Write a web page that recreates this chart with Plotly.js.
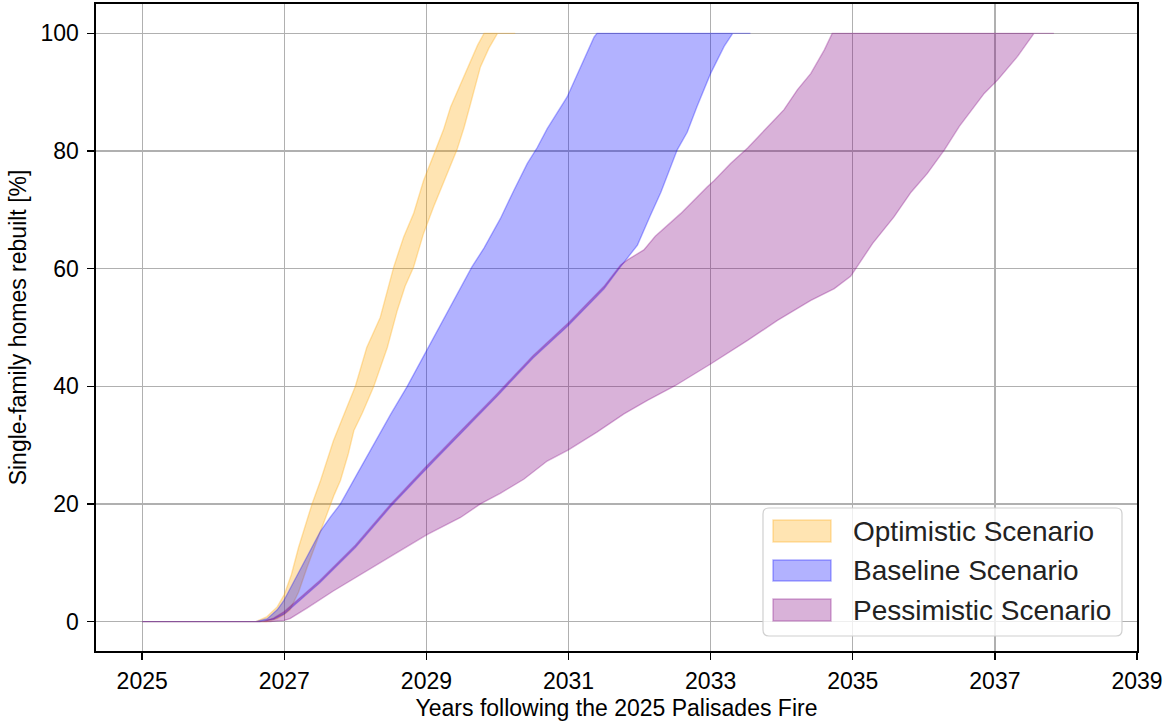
<!DOCTYPE html>
<html>
<head>
<meta charset="utf-8">
<script src="https://cdn.plot.ly/plotly-3.0.1.min.js"></script>
<style>
  html, body { margin: 0; padding: 0; background: #fff; }
  #chart { width: 1167px; height: 721px; }
</style>
</head>
<body>
<div id="chart"></div>
<script>
// ---------------- Data ----------------
const seriesNames = ["Optimistic Scenario", "Baseline Scenario", "Pessimistic Scenario"];

// Optimistic scenario: upper (faster) and lower (slower) bound
const optUpperX = [2025, 2026.6, 2026.75, 2026.9, 2027.0, 2027.1, 2027.2, 2027.3, 2027.39, 2027.51, 2027.6, 2027.69, 2027.8, 2027.88, 2028.0, 2028.16, 2028.35, 2028.54, 2028.68, 2028.82, 2028.96, 2029.13, 2029.24, 2029.34, 2029.5, 2029.62, 2029.72, 2029.81, 2030.25];
const optUpperY = [0, 0, 0.8, 2.5, 4.6, 8.0, 12.6, 16.5, 20.0, 24.0, 27.5, 30.7, 34.0, 36.4, 40.0, 46.6, 51.7, 60.3, 65.4, 69.4, 75.0, 80.2, 83.6, 87.5, 92.0, 95.4, 98.0, 100, 100];
const optLowerX = [2025, 2026.75, 2026.9, 2027.0, 2027.08, 2027.2, 2027.32, 2027.45, 2027.6, 2027.7, 2027.79, 2027.9, 2027.98, 2028.1, 2028.26, 2028.45, 2028.59, 2028.7, 2028.82, 2028.96, 2029.1, 2029.29, 2029.43, 2029.53, 2029.62, 2029.76, 2029.88, 2030.0, 2030.25];
const optLowerY = [0, 0, 0.5, 1.2, 2.0, 5.0, 9.2, 13.5, 18.3, 21.5, 24.0, 28.5, 32.5, 35.5, 40.0, 46.6, 52.9, 57.0, 60.3, 66.0, 70.5, 76.2, 80.2, 84.0, 88.0, 94.3, 97.5, 100, 100];

// Baseline scenario
const baseUpperX = [2025, 2026.6, 2026.76, 2026.9, 2026.99, 2027.1, 2027.23, 2027.37, 2027.51, 2027.65, 2027.79, 2028.02, 2028.26, 2028.5, 2028.73, 2029.01, 2029.2, 2029.43, 2029.64, 2029.81, 2030.04, 2030.23, 2030.42, 2030.56, 2030.7, 2030.98, 2031.17, 2031.36, 2031.4, 2033.56];
const baseUpperY = [0, 0, 0.5, 2.0, 3.5, 6.0, 9.2, 12.3, 15.4, 17.8, 20.0, 25.0, 30.2, 35.3, 40.0, 46.3, 50.5, 55.5, 60.3, 63.5, 68.5, 73.3, 77.9, 80.6, 83.8, 89.2, 94.3, 99.4, 100, 100];
const baseLowerX = [2025, 2026.65, 2026.85, 2027.0, 2027.5, 2028.0, 2028.5, 2029.0, 2029.5, 2030.0, 2030.5, 2031.0, 2031.5, 2031.73, 2031.97, 2032.15, 2032.3, 2032.53, 2032.67, 2032.81, 2033.0, 2033.19, 2033.31, 2033.56];
const baseLowerY = [0, 0, 0.4, 1.3, 6.6, 12.6, 19.6, 26.0, 32.2, 38.4, 44.8, 50.4, 56.6, 60.3, 64.0, 69.0, 73.0, 80.2, 83.2, 87.6, 93.2, 97.8, 100, 100];

// Pessimistic scenario
const pesUpperX = [2025, 2026.7, 2026.85, 2027.0, 2027.5, 2028.0, 2028.5, 2029.0, 2029.5, 2030.0, 2030.5, 2031.0, 2031.5, 2031.73, 2031.83, 2032.06, 2032.22, 2032.58, 2032.95, 2033.05, 2033.28, 2033.52, 2033.8, 2034.03, 2034.22, 2034.41, 2034.6, 2034.71, 2037.83];
const pesUpperY = [0, 0, 0.6, 1.7, 7.0, 13.0, 20.0, 26.4, 32.6, 38.8, 45.2, 50.8, 57.0, 60.6, 61.5, 63.2, 65.5, 69.4, 73.9, 75.0, 77.9, 80.5, 84.1, 87.0, 90.4, 93.2, 97.2, 100, 100];
const pesLowerX = [2025, 2026.8, 2027.0, 2027.08, 2027.32, 2027.69, 2028.16, 2028.54, 2029.01, 2029.48, 2029.76, 2030.04, 2030.37, 2030.7, 2031.0, 2031.4, 2031.78, 2032.11, 2032.5, 2033.0, 2033.52, 2033.94, 2034.41, 2034.74, 2034.97, 2035.05, 2035.28, 2035.58, 2035.82, 2036.05, 2036.29, 2036.5, 2036.85, 2037.04, 2037.32, 2037.55, 2037.83];
const pesLowerY = [0, 0, 0.2, 0.5, 2.3, 5.2, 8.6, 11.4, 14.8, 17.7, 20.0, 21.8, 24.2, 27.3, 29.2, 32.2, 35.3, 37.6, 40.1, 43.8, 47.8, 51.2, 54.6, 56.6, 58.7, 60.3, 64.3, 68.8, 73.0, 76.2, 80.2, 84.2, 89.8, 92.1, 96.1, 100, 100];

// Axis ticks
const xTicks = [2025, 2027, 2029, 2031, 2033, 2035, 2037, 2039];
const yTicks = [0, 20, 40, 60, 80, 100];

// ---------------- Styling ----------------
const fills  = ["rgba(255,165,0,0.3)", "rgba(0,0,255,0.3)", "rgba(128,0,128,0.3)"];
const FONT = "'Liberation Sans', Arial, Helvetica, sans-serif";

function band(ux, uy, lx, ly, i) {
  return {
    type: "scatter",
    mode: "lines",
    name: seriesNames[i],
    x: ux.concat(lx.slice().reverse()),
    y: uy.concat(ly.slice().reverse()),
    fill: "toself",
    fillcolor: fills[i],
    line: { color: fills[i], width: 1.4 },
    hoverinfo: "skip",
    showlegend: false
  };
}

const data = [
  band(optUpperX, optUpperY, optLowerX, optLowerY, 0),
  band(baseUpperX, baseUpperY, baseLowerX, baseLowerY, 1),
  band(pesUpperX, pesUpperY, pesLowerX, pesLowerY, 2)
];

// ---------------- Custom matplotlib-like legend ----------------
const PW = 1041, PH = 647;          // plot area in px
const px = v => v / PW, py = v => v / PH;
const lx0 = px(763 - 96), lx1 = px(1122 - 96);
const ly0 = py(651 - 636), ly1 = py(651 - 508);
const rx = px(6), ry = py(6);
const framePath =
  `M ${lx0 + rx},${ly0} L ${lx1 - rx},${ly0} Q ${lx1},${ly0} ${lx1},${ly0 + ry} ` +
  `L ${lx1},${ly1 - ry} Q ${lx1},${ly1} ${lx1 - rx},${ly1} L ${lx0 + rx},${ly1} ` +
  `Q ${lx0},${ly1} ${lx0},${ly1 - ry} L ${lx0},${ly0 + ry} Q ${lx0},${ly0} ${lx0 + rx},${ly0} Z`;

const rowsTop = [520, 560, 599];
const rowsBot = [542, 581, 621];
const shapes = [{
  type: "path", xref: "paper", yref: "paper", path: framePath,
  fillcolor: "rgba(255,255,255,0.8)", line: { color: "#d0d0d0", width: 1.2 }, layer: "above"
}];
const annotations = [];
for (let i = 0; i < 3; i++) {
  shapes.push({
    type: "rect", xref: "paper", yref: "paper", layer: "above",
    x0: px(773 - 96), x1: px(831 - 96),
    y0: py(651 - rowsBot[i]), y1: py(651 - rowsTop[i]),
    fillcolor: fills[i], line: { color: fills[i], width: 1.5 }
  });
  annotations.push({
    xref: "paper", yref: "paper", x: px(851 - 96), y: py(651 - (rowsTop[i] + rowsBot[i]) / 2),
    xanchor: "left", yanchor: "middle", showarrow: false,
    text: seriesNames[i], font: { family: FONT, size: 28, color: "#222" }
  });
}

const axisCommon = {
  showline: true, linecolor: "#000", linewidth: 1.6, mirror: true,
  ticks: "outside", ticklen: 7, tickwidth: 1.4, tickcolor: "#000",
  showgrid: true, gridcolor: "#b0b0b0", gridwidth: 1.3,
  zeroline: false, tickfont: { family: FONT, size: 23, color: "#000" },
  fixedrange: true
};

const layout = {
  width: 1167, height: 721,
  margin: { l: 96, r: 30, t: 4, b: 70, pad: 0 },
  paper_bgcolor: "#fff", plot_bgcolor: "#fff",
  font: { family: FONT, color: "#000" },
  showlegend: false,
  xaxis: Object.assign({}, axisCommon, {
    range: [2024.35, 2039], tickvals: xTicks, ticktext: xTicks.map(String),
    ticklabelstandoff: 2,
    title: { text: "Years following the 2025 Palisades Fire", font: { family: FONT, size: 23, color: "#000" }, standoff: 9 }
  }),
  yaxis: Object.assign({}, axisCommon, {
    range: [-5, 105], tickvals: yTicks, ticktext: yTicks.map(String),
    ticklabelstandoff: 4,
    title: { text: "Single-family homes rebuilt [%]", font: { family: FONT, size: 23, color: "#000" }, standoff: 7 }
  }),
  shapes: shapes,
  annotations: annotations
};

Plotly.newPlot("chart", data, layout, { displayModeBar: false, staticPlot: true });
</script>
</body>
</html>
